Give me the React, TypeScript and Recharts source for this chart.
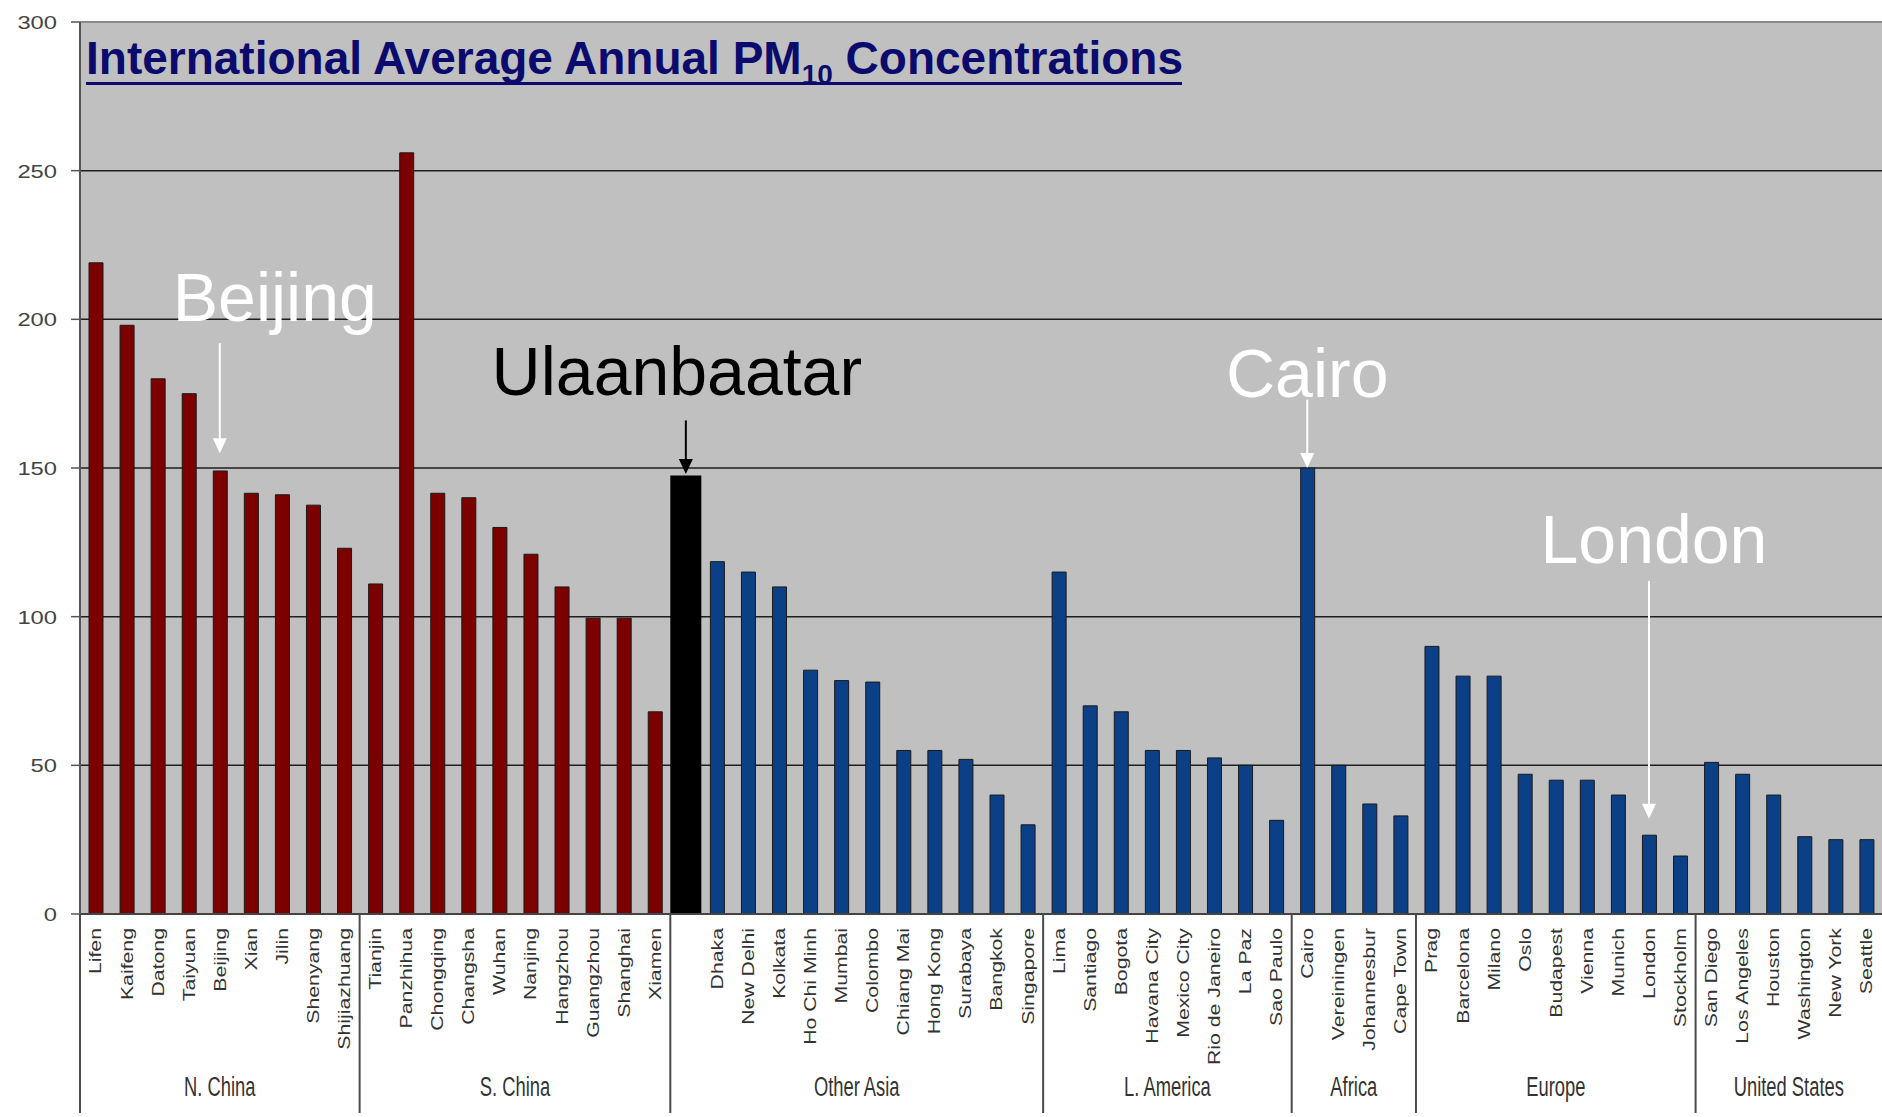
import React from 'react';
import { BarChart, Bar, XAxis, YAxis, CartesianGrid, Cell, ReferenceLine, ReferenceDot } from 'recharts';

// ---------- data ----------
const nChinaCities = ['Lifen', 'Kaifeng', 'Datong', 'Taiyuan', 'Beijing', 'Xian', 'Jilin', 'Shenyang', 'Shijiazhuang'];
const nChinaPM10 = [219, 198, 180, 175, 149, 141.5, 141, 137.5, 123];

const sChinaCities = ['Tianjin', 'Panzhihua', 'Chongqing', 'Changsha', 'Wuhan', 'Nanjing', 'Hangzhou', 'Guangzhou', 'Shanghai', 'Xiamen'];
const sChinaPM10 = [111, 256, 141.5, 140, 130, 121, 110, 99.5, 99.5, 68];

const otherAsiaCities = ['Ulaanbaatar', 'Dhaka', 'New Delhi', 'Kolkata', 'Ho Chi Minh', 'Mumbai', 'Colombo', 'Chiang Mai', 'Hong Kong', 'Surabaya', 'Bangkok', 'Singapore'];
const otherAsiaPM10 = [147.5, 118.5, 115, 110, 82, 78.5, 78, 55, 55, 52, 40, 30];

const lAmericaCities = ['Lima', 'Santiago', 'Bogota', 'Havana City', 'Mexico City', 'Rio de Janeiro', 'La Paz', 'Sao Paulo'];
const lAmericaPM10 = [115, 70, 68, 55, 55, 52.5, 50, 31.5];

const africaCities = ['Cairo', 'Vereiningen', 'Johannesbur', 'Cape Town'];
const africaPM10 = [150, 50, 37, 33];

const europeCities = ['Prag', 'Barcelona', 'Milano', 'Oslo', 'Budapest', 'Vienna', 'Munich', 'London', 'Stockholm'];
const europePM10 = [90, 80, 80, 47, 45, 45, 40, 26.5, 19.5];

const usCities = ['San Diego', 'Los Angeles', 'Houston', 'Washington', 'New York', 'Seattle'];
const usPM10 = [51, 47, 40, 26, 25, 25];

const yTicks = [0, 50, 100, 150, 200, 250, 300];
const highlightCity = 'Ulaanbaatar';

const RED = '#7C0000';
const BLUE = '#0B3F86';

const groups = [
  { label: 'N. China', cities: nChinaCities, values: nChinaPM10, color: RED },
  { label: 'S. China', cities: sChinaCities, values: sChinaPM10, color: RED },
  { label: 'Other Asia', cities: otherAsiaCities, values: otherAsiaPM10, color: BLUE },
  { label: 'L. America', cities: lAmericaCities, values: lAmericaPM10, color: BLUE },
  { label: 'Africa', cities: africaCities, values: africaPM10, color: BLUE },
  { label: 'Europe', cities: europeCities, values: europePM10, color: BLUE },
  { label: 'United States', cities: usCities, values: usPM10, color: BLUE },
];

type Row = { city: string; main: number | null; ub: number | null; color: string };
const data: Row[] = [];
const groupStart: Record<string, { label: string; count: number }> = {};
groups.forEach((g) => {
  g.cities.forEach((c, i) => {
    if (i === 0) groupStart[c] = { label: g.label, count: g.cities.length };
    const v = g.values[i];
    const isUB = c === highlightCity;
    data.push({ city: c, main: isUB ? null : v, ub: isUB ? v : null, color: g.color });
  });
});

// annotations (text + arrow), in data units
const annotations = [
  { city: 'Beijing', text: 'Beijing', color: '#ffffff', textAt: 199.5, dx: 55, from: 192, to: 155 },
  { city: 'Ulaanbaatar', text: 'Ulaanbaatar', color: '#000000', textAt: 174.5, dx: -9, from: 166, to: 148 },
  { city: 'Cairo', text: 'Cairo', color: '#ffffff', textAt: 174, dx: 0, from: 173, to: 150 },
  { city: 'London', text: 'London', color: '#ffffff', textAt: 118, dx: 5, from: 112, to: 32 },
];

// ---------- layout ----------
const W = 1882;
const H = 1117;
const PLOT_LEFT = 80;
const PLOT_TOP = 22;
const X_AXIS_H = 203;
const BAND = (W - PLOT_LEFT) / data.length;
const FONT = '"Liberation Sans", Arial, sans-serif';

const CityTick = (props: any) => {
  const { x, y, payload } = props;
  const city = payload.value as string;
  const gs = groupStart[city];
  const left = x - BAND / 2;
  return (
    <g>
      {gs && <line x1={left} y1={y} x2={left} y2={y + 199} stroke="#4a4a4a" strokeWidth={2} />}
      {gs && (
        <text
          transform={`translate(${left + (gs.count * BAND) / 2},${y + 182}) scale(0.68,1)`}
          textAnchor="middle"
          fontSize={27}
          fontFamily={FONT}
          fill="#333"
        >
          {gs.label}
        </text>
      )}
      {city !== highlightCity && (
        <text
          transform={`translate(${x},${y + 14}) rotate(-90) scale(1.25,1)`}
          textAnchor="end"
          dy="0.35em"
          fontSize={17}
          fontFamily={FONT}
          fill="#333"
        >
          {city}
        </text>
      )}
    </g>
  );
};

const YTick = (props: any) => {
  const { x, y, payload } = props;
  return (
    <text
      transform={`translate(${x},${y}) scale(1.25,1)`}
      textAnchor="end"
      dy="0.36em"
      fontSize={19}
      fontFamily={FONT}
      fill="#444"
    >
      {payload.value}
    </text>
  );
};

const makeArrow = (color: string) => (props: any) => {
  const { x1, y1, x2, y2 } = props;
  return (
    <g>
      <line x1={x1} y1={y1} x2={x2} y2={y2 - 12} stroke={color} strokeWidth={2} />
      <polygon points={`${x2 - 7},${y2 - 15} ${x2 + 7},${y2 - 15} ${x2},${y2}`} fill={color} />
    </g>
  );
};

const makeLabel = (text: string, color: string, dx: number) => (props: any) => {
  const { cx, cy } = props;
  return (
    <text x={cx + dx} y={cy} textAnchor="middle" fontSize={68} fontFamily={FONT} fill={color}>
      {text}
    </text>
  );
};

export default function App() {
  return (
    <div style={{ position: 'absolute', left: 0, top: 0, width: W, height: H, background: '#fff' }}>
      <BarChart
        width={W}
        height={H}
        data={data}
        margin={{ top: PLOT_TOP, right: 0, left: 0, bottom: 0 }}
        barCategoryGap={0}
      >
        <CartesianGrid
          xAxisId="main"
          vertical={false}
          stroke="#1e1e1e"
          strokeWidth={1.5}
          fill="#C0C0C0"
          fillOpacity={1}
        />
        <XAxis
          xAxisId="main"
          dataKey="city"
          type="category"
          interval={0}
          height={X_AXIS_H}
          tickSize={0}
          tickMargin={0}
          tickLine={false}
          axisLine={{ stroke: '#444', strokeWidth: 2 }}
          tick={<CityTick />}
        />
        <XAxis xAxisId="ub" dataKey="city" type="category" hide />
        <YAxis
          width={PLOT_LEFT}
          domain={[0, 300]}
          ticks={yTicks}
          interval={0}
          tickSize={9}
          tickMargin={14}
          tickLine={{ stroke: '#555', strokeWidth: 1.5 }}
          axisLine={{ stroke: '#555', strokeWidth: 2 }}
          tick={<YTick />}
        />
        <ReferenceLine xAxisId="main" y={300} stroke="#8c8c8c" strokeWidth={2} />
        <Bar xAxisId="main" dataKey="main" barSize={14} stroke="#1a1a1a" strokeWidth={1} isAnimationActive={false}>
          {data.map((d) => (
            <Cell key={d.city} fill={d.color} />
          ))}
        </Bar>
        <Bar xAxisId="ub" dataKey="ub" barSize={31} fill="#000000" isAnimationActive={false} />
        {annotations.map((a) => (
          <ReferenceLine
            key={'arrow-' + a.city}
            xAxisId="main"
            segment={[{ x: a.city, y: a.from }, { x: a.city, y: a.to }]}
            shape={makeArrow(a.color)}
          />
        ))}
        {annotations.map((a) => (
          <ReferenceDot
            key={'text-' + a.city}
            xAxisId="main"
            x={a.city}
            y={a.textAt}
            r={0}
            shape={makeLabel(a.text, a.color, a.dx)}
          />
        ))}
      </BarChart>
      <svg width={W} height={120} style={{ position: 'absolute', left: 0, top: 0, pointerEvents: 'none' }}>
        <text x={86} y={74} fontSize={46} fontWeight="bold" fontFamily={FONT} fill="#0B0B6E">
          International Average Annual PM
          <tspan fontSize={28} dy={10}>10</tspan>
          <tspan dy={-10}> Concentrations</tspan>
        </text>
        <rect x={86} y={82} width={1096} height={3} fill="#0B0B6E" />
      </svg>
    </div>
  );
}
